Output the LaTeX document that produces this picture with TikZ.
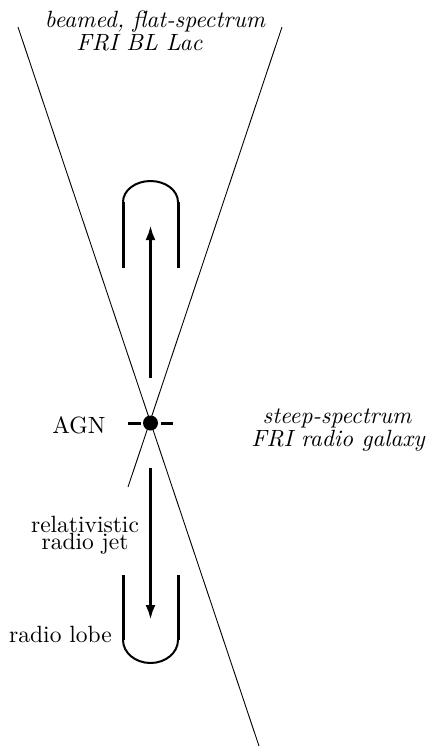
\documentclass[tikz,border=0pt]{standalone}
\usepackage{fontspec}
\setmainfont{lmroman10-regular.otf}[ItalicFont=lmroman10-italic.otf]
\usetikzlibrary{arrows.meta}
\begin{document}
\begin{tikzpicture}[x=1pt,y=-1pt,
  cone/.style={line width=0.9pt},
  lobeside/.style={line width=3pt},
  lobecap/.style={line width=2pt},
  jet/.style={line width=3.2pt,-{Latex[length=15pt,width=10pt]}},
  tickmark/.style={line width=3pt},
  lbl/.style={inner sep=0pt,anchor=base,font=\fontsize{23.5}{24}\selectfont},
  ilbl/.style={inner sep=0pt,anchor=base,font=\fontsize{23.5}{24}\selectfont\itshape}]
\useasboundingbox (0,0) rectangle (430,747);
% cone edges
\coordinate (c1a) at (18,27);  \coordinate (c1b) at (259,746);
\coordinate (c2a) at (282,27); \coordinate (c2b) at (128,487);
\draw[cone] (c1a) -- (c1b);
\draw[cone] (c2a) -- (c2b);
% AGN
\node[circle,fill,inner sep=0pt,minimum size=15pt] (agn) at (150.5,423) {};
\coordinate (dl1) at (128,423); \coordinate (dl2) at (141,423);
\coordinate (dr1) at (161,423); \coordinate (dr2) at (173,423);
\draw[tickmark] (dl1) -- (dl2);
\draw[tickmark] (dr1) -- (dr2);
% jets
\coordinate (j1s) at (150.5,378); \coordinate (j1e) at (150.5,225);
\coordinate (j2s) at (150.5,468); \coordinate (j2e) at (150.5,620);
\draw[jet] (j1s) -- (j1e);
\draw[jet] (j2s) -- (j2e);
% top lobe
\coordinate (tl1) at (123,268); \coordinate (tl2) at (123,202);
\coordinate (tr1) at (178,268); \coordinate (tr2) at (178,202);
\draw[lobeside] (tl1) -- (tl2);
\draw[lobeside] (tr1) -- (tr2);
\draw[lobecap] (tl2) arc[start angle=180,end angle=0,x radius=27.5pt,y radius=21pt];
% bottom lobe
\coordinate (bl1) at (123,575); \coordinate (bl2) at (123,640);
\coordinate (br1) at (178,575); \coordinate (br2) at (178,640);
\draw[lobeside] (bl1) -- (bl2);
\draw[lobeside] (br1) -- (br2);
\draw[lobecap] (bl2) arc[start angle=180,end angle=360,x radius=27.5pt,y radius=23pt];
% labels
\node[ilbl] (t1) at (155,27) {beamed, flat-spectrum};
\node[ilbl] (t2) at (139.5,50) {FRI BL Lac};
\node[lbl] (agnl) at (79,433) {AGN};
\node[ilbl] (s1) at (337,423) {steep-spectrum};
\node[ilbl] (s2) at (338,446) {FRI radio galaxy};
\node[lbl,anchor=north,align=center,font=\fontsize{23.5}{16.5}\selectfont] (rj) at (85,515.5) {relativistic\\radio jet};
\node[lbl] (lobe) at (60.5,642) {radio lobe};
\end{tikzpicture}
\end{document}
